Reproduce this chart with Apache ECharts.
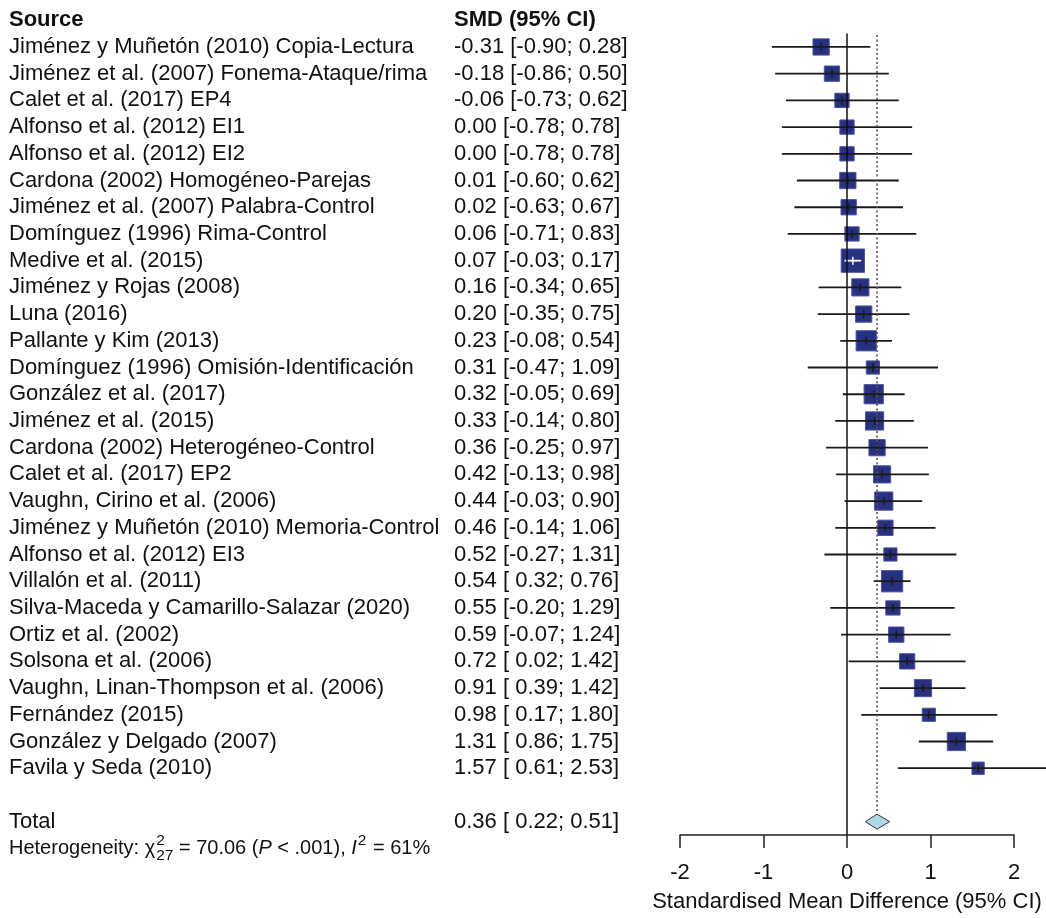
<!DOCTYPE html>
<html>
<head>
<meta charset="utf-8">
<title>Forest plot</title>
<script src="https://cdn.jsdelivr.net/npm/echarts@6/dist/echarts.min.js"></script>
<style>
  html, body { margin: 0; padding: 0; background: #fff; }
  #chart { width: 1046px; height: 918px; }
</style>
</head>
<body>
<div id="chart"></div>
<script>
// study data (top to bottom)
var studies = [
  'Jiménez y Muñetón (2010) Copia-Lectura',
  'Jiménez et al. (2007) Fonema-Ataque/rima',
  'Calet et al. (2017) EP4',
  'Alfonso et al. (2012) EI1',
  'Alfonso et al. (2012) EI2',
  'Cardona (2002) Homogéneo-Parejas',
  'Jiménez et al. (2007) Palabra-Control',
  'Domínguez (1996) Rima-Control',
  'Medive et al. (2015)',
  'Jiménez y Rojas (2008)',
  'Luna (2016)',
  'Pallante y Kim (2013)',
  'Domínguez (1996) Omisión-Identificación',
  'González et al. (2017)',
  'Jiménez et al. (2015)',
  'Cardona (2002) Heterogéneo-Control',
  'Calet et al. (2017) EP2',
  'Vaughn, Cirino et al. (2006)',
  'Jiménez y Muñetón (2010) Memoria-Control',
  'Alfonso et al. (2012) EI3',
  'Villalón et al. (2011)',
  'Silva-Maceda y Camarillo-Salazar (2020)',
  'Ortiz et al. (2002)',
  'Solsona et al. (2006)',
  'Vaughn, Linan-Thompson et al. (2006)',
  'Fernández (2015)',
  'González y Delgado (2007)',
  'Favila y Seda (2010)'
];
var smd = [-0.31, -0.18, -0.06, 0.00, 0.00, 0.01, 0.02, 0.06, 0.07, 0.16, 0.20, 0.23, 0.31, 0.32,
  0.33, 0.36, 0.42, 0.44, 0.46, 0.52, 0.54, 0.55, 0.59, 0.72, 0.91, 0.98, 1.31, 1.57];
var lower = [-0.90, -0.86, -0.73, -0.78, -0.78, -0.60, -0.63, -0.71, -0.03, -0.34, -0.35, -0.08, -0.47, -0.05,
  -0.14, -0.25, -0.13, -0.03, -0.14, -0.27, 0.32, -0.20, -0.07, 0.02, 0.39, 0.17, 0.86, 0.61];
var upper = [0.28, 0.50, 0.62, 0.78, 0.78, 0.62, 0.67, 0.83, 0.17, 0.65, 0.75, 0.54, 1.09, 0.69,
  0.80, 0.97, 0.98, 0.90, 1.06, 1.31, 0.76, 1.29, 1.24, 1.42, 1.42, 1.80, 1.75, 2.53];
// weights (%) estimated from square areas
var weights = [3.5, 3.1, 2.7, 2.7, 2.7, 3.5, 3.1, 2.7, 7.2, 3.9, 3.5, 5.4, 2.3, 4.9,
  4.4, 3.5, 3.9, 4.4, 3.1, 2.3, 6.0, 2.7, 3.1, 3.1, 3.9, 2.3, 4.4, 2.0];
var total = [0.36, 0.22, 0.51];
var xTicks = [-2, 2];
var het = { df: '27', chi2: '70.06', p: '< .001', i2: '61%' };

var FONT = '"Liberation Sans", Arial, sans-serif';
var TEXT = '#111';
var BOX_SCALE = 8.7;
var TOTAL_ROW = studies.length + 1;

function fmt(v) { return v.toFixed(2); }
function ciText(est, lo, hi) {
  return fmt(est) + ' [' + (lo < 0 ? '' : ' ') + fmt(lo) + '; ' + fmt(hi) + ']';
}

var labelRows = [{ row: -1, left: 'Source', right: 'SMD (95% CI)', bold: true }];
studies.forEach(function (s, i) {
  labelRows.push({ row: i, left: s, right: ciText(smd[i], lower[i], upper[i]) });
});
labelRows.push({ row: TOTAL_ROW, left: 'Total', right: ciText(total[0], total[1], total[2]) });

var measureCtx = document.createElement('canvas').getContext('2d');
function textWidth(str, font) {
  measureCtx.font = font;
  return measureCtx.measureText(str).width;
}

function renderStudy(params, api) {
  var row = api.value(0);
  var c = api.coord([api.value(1), row]);
  var l = api.coord([api.value(2), row]);
  var r = api.coord([api.value(3), row]);
  var side = BOX_SCALE * Math.sqrt(api.value(4));
  // CI shorter than the box -> draw it white
  var lineColor = (r[0] - l[0]) < side ? '#fff' : '#1a1a1a';
  return {
    type: 'group',
    children: [
      { type: 'rect', shape: { x: c[0] - side / 2, y: c[1] - side / 2, width: side, height: side },
        style: { fill: '#283080', stroke: '#4f56a2', lineWidth: 1 } },
      { type: 'line', shape: { x1: l[0], y1: c[1], x2: r[0], y2: c[1] },
        style: { stroke: lineColor, lineWidth: 1.8 } },
      { type: 'line', shape: { x1: c[0], y1: c[1] - 4, x2: c[0], y2: c[1] + 4 },
        style: { stroke: lineColor, lineWidth: 1.5 } }
    ]
  };
}

function renderTotal(params, api) {
  var row = api.value(0);
  var c = api.coord([api.value(1), row]);
  var l = api.coord([api.value(2), row]);
  var r = api.coord([api.value(3), row]);
  var top = api.coord([api.value(1), -0.45]);
  var bottom = api.coord([api.value(1), row - 0.35]);
  var h = 7.5;
  return {
    type: 'group',
    children: [
      { type: 'line', shape: { x1: top[0], y1: top[1], x2: bottom[0], y2: bottom[1] },
        style: { stroke: '#555', lineWidth: 1.6, lineDash: [2, 2.5] } },
      { type: 'polygon', shape: { points: [[l[0], c[1]], [c[0], c[1] - h], [r[0], c[1]], [c[0], c[1] + h]] },
        style: { fill: '#add8e6', stroke: '#333', lineWidth: 1 } }
    ]
  };
}

function renderLabel(params, api) {
  var item = labelRows[params.dataIndex];
  var y = api.coord([0, api.value(1)])[1];
  var font = (item.bold ? 'bold ' : '') + '22px ' + FONT;
  return {
    type: 'group',
    children: [
      { type: 'text', style: { text: item.left, x: 9, y: y, font: font, fill: TEXT, verticalAlign: 'middle' } },
      { type: 'text', style: { text: item.right, x: 454, y: y, font: font, fill: TEXT, verticalAlign: 'middle' } }
    ]
  };
}

function renderHet(params, api) {
  var y = api.coord([0, api.value(1)])[1];
  var normal = '20px ' + FONT;
  var italic = 'italic 20px ' + FONT;
  var small = '15.5px ' + FONT;
  var x = 9;
  var children = [];
  function add(str, font, dy) {
    children.push({ type: 'text', style: { text: str, x: x, y: y + (dy || 0), font: font, fill: TEXT, verticalAlign: 'middle' } });
    return textWidth(str, font);
  }
  x += add('Heterogeneity: \u03c7', normal) + 1;
  var w1 = add('2', small, -8);
  var w2 = add(het.df, small, 7);
  x += Math.max(w1, w2);
  x += add(' = ' + het.chi2 + ' (', normal);
  x += add('P', italic);
  x += add(' ' + het.p + '), ', normal);
  x += add('I', italic) + 1;
  x += add('2', small, -8) + 1;
  add(' = ' + het.i2, normal);
  return { type: 'group', children: children };
}

var chart = echarts.init(document.getElementById('chart'));
chart.setOption({
  animation: false,
  grid: { left: 680, right: 32, top: 33.6, bottom: 81 },
  xAxis: {
    type: 'value',
    min: xTicks[0],
    max: xTicks[1],
    interval: 1,
    splitLine: { show: false },
    axisLine: { onZero: false, lineStyle: { color: '#222', width: 1.5 } },
    axisTick: { length: 13, lineStyle: { color: '#222', width: 1.5 } },
    axisLabel: { color: TEXT, fontSize: 22, fontFamily: FONT, margin: 27 },
    name: 'Standardised Mean Difference (95% CI)',
    nameLocation: 'middle',
    nameGap: 56,
    nameTextStyle: { color: TEXT, fontSize: 22, fontFamily: FONT }
  },
  yAxis: { type: 'value', inverse: true, min: -0.5, max: studies.length + 1.5, show: false },
  series: [
    {
      type: 'custom',
      name: 'studies',
      clip: false,
      renderItem: renderStudy,
      encode: { x: [1, 2, 3], y: 0 },
      data: studies.map(function (s, i) { return [i, smd[i], lower[i], upper[i], weights[i]]; }),
      markLine: {
        silent: true,
        symbol: 'none',
        label: { show: false },
        lineStyle: { color: '#111', width: 1.5, type: 'solid' },
        data: [{ xAxis: 0 }]
      }
    },
    {
      type: 'custom',
      name: 'total',
      clip: false,
      renderItem: renderTotal,
      encode: { x: [1, 2, 3], y: 0 },
      data: [[TOTAL_ROW, total[0], total[1], total[2]]]
    },
    {
      type: 'custom',
      name: 'labels',
      clip: false,
      renderItem: renderLabel,
      encode: { x: 0, y: 1 },
      data: labelRows.map(function (r) { return [0, r.row]; })
    },
    {
      type: 'custom',
      name: 'heterogeneity',
      clip: false,
      renderItem: renderHet,
      encode: { x: 0, y: 1 },
      data: [[0, TOTAL_ROW + 1]]
    }
  ]
});
</script>
</body>
</html>
